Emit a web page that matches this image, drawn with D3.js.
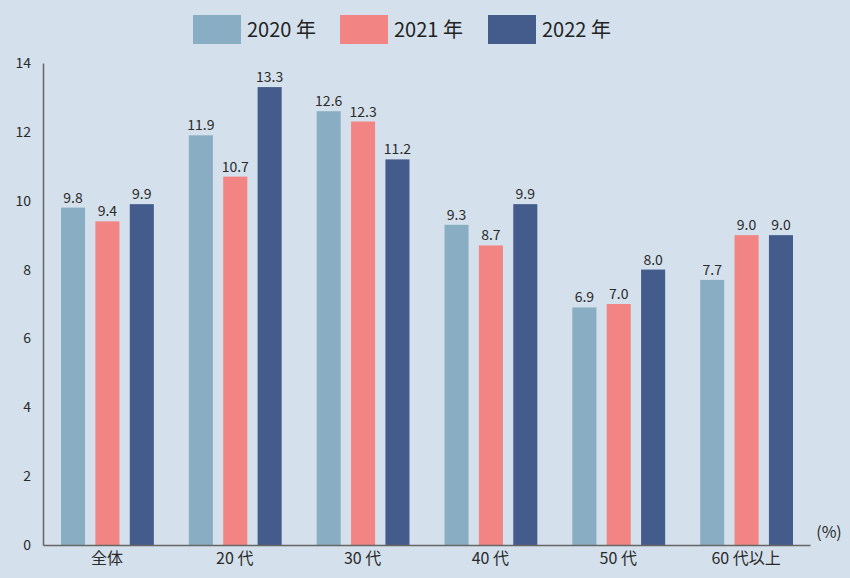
<!DOCTYPE html>
<html><head><meta charset="utf-8">
<script src="https://cdn.jsdelivr.net/npm/d3@7"></script>
<style>
html,body{margin:0;padding:0;background:#d4e1ec;}
svg{display:block;font-family:"Noto Sans CJK JP","Noto Sans",sans-serif;}
</style></head>
<body><svg id="chart" width="850" height="578"></svg>
<script>
const categories = ["全体","20 代","30 代","40 代","50 代","60 代以上"];
const seriesNames = ["2020 年","2021 年","2022 年"];
const values2020 = [9.8, 11.9, 12.6, 9.3, 6.9, 7.7];
const values2021 = [9.4, 10.7, 12.3, 8.7, 7.0, 9.0];
const values2022 = [9.9, 13.3, 11.2, 9.9, 8.0, 9.0];
const yTicks = [0,2,4,6,8,10,12,14];
const colors = ["#89aec3","#f28583","#445c8b"];

const series = [values2020, values2021, values2022];
const svg = d3.select("#chart");
svg.append("rect").attr("width",850).attr("height",578).attr("fill","#d4e1ec");

const mLeft = 43, mRight = 810, mTop = 63, mBottom = 545;
const y = d3.scaleLinear().domain([0,14]).range([mBottom, mTop]);
const x0 = d3.scaleBand().domain(categories).range([mLeft, mRight]).padding(0);
const bw = x0.bandwidth();
const x1 = d3.scaleBand().domain(seriesNames).range([18, bw - 17]).paddingInner(0.3).paddingOuter(0);

// bars
categories.forEach((c, ci) => {
  const g = svg.append("g").attr("transform", `translate(${x0(c)},0)`);
  seriesNames.forEach((s, si) => {
    const v = series[si][ci];
    g.append("rect")
      .attr("x", x1(s)).attr("width", x1.bandwidth())
      .attr("y", y(v)).attr("height", y(0) - y(v))
      .attr("fill", colors[si]);
    g.append("text")
      .attr("x", x1(s) + x1.bandwidth()/2).attr("y", y(v) - 5)
      .attr("text-anchor","middle").attr("font-size", 14)
      .attr("fill","#2a2a2a").text(v.toFixed(1));
  });
});

// y axis
const yAxis = d3.axisLeft(y).tickValues(yTicks).tickSize(0).tickPadding(12);
const ya = svg.append("g").attr("transform", `translate(${mLeft},0)`).call(yAxis);
ya.select(".domain").attr("stroke","#666").attr("stroke-width",1.5);
ya.selectAll("text").attr("font-size",14).attr("fill","#2a2a2a")
  .attr("font-family","\"Noto Sans CJK JP\",\"Noto Sans\",sans-serif");

// x axis
const xAxis = d3.axisBottom(x0).tickSize(0).tickPadding(8);
const xa = svg.append("g").attr("transform", `translate(0,${mBottom})`).call(xAxis);
xa.select(".domain").attr("stroke","#666").attr("stroke-width",1.5);
xa.selectAll("text").attr("font-size",16).attr("fill","#2a2a2a")
  .attr("font-family","\"Noto Sans CJK JP\",\"Noto Sans\",sans-serif");

svg.append("text").attr("x",829).attr("y",538).attr("text-anchor","middle")
  .attr("font-size",16).attr("fill","#2a2a2a").text("(%)");

// legend
const legendX = [193, 340, 488];
seriesNames.forEach((s, i) => {
  svg.append("rect").attr("x", legendX[i]).attr("y", 15).attr("width", 48).attr("height", 29).attr("fill", colors[i]);
  svg.append("text").attr("x", legendX[i] + 54).attr("y", 37).attr("font-size", 20)
    .attr("fill","#222").text(s);
});
</script></body></html>
